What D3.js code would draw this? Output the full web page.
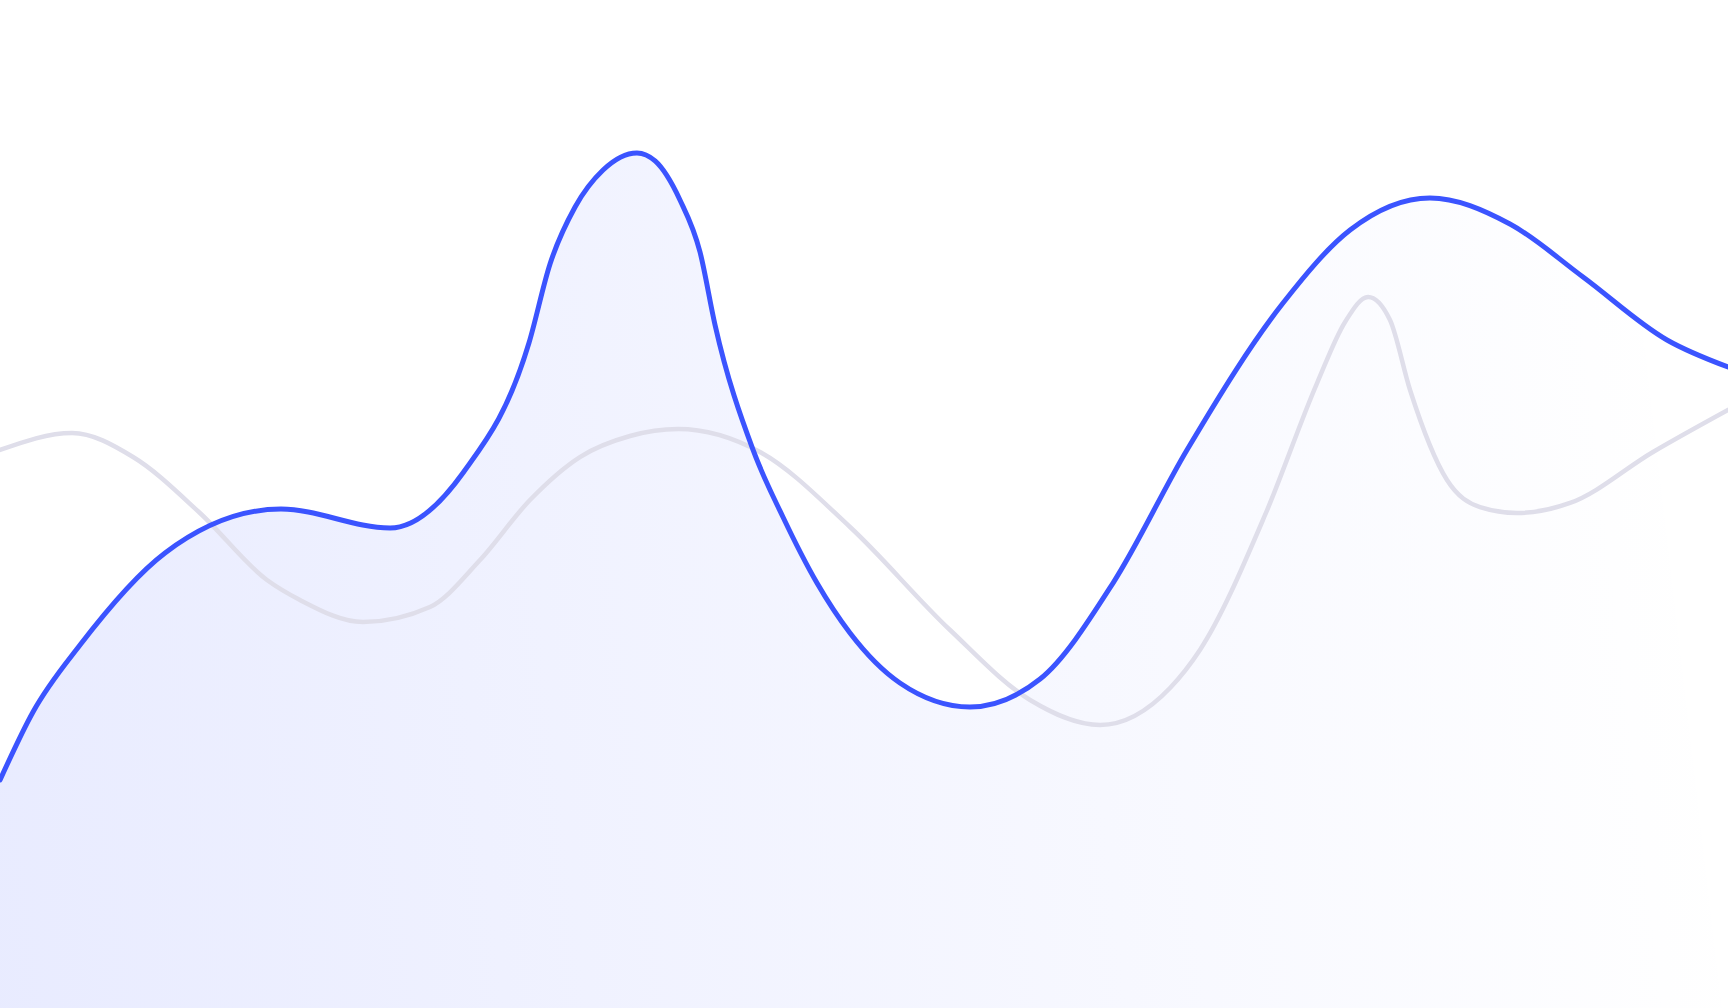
<!DOCTYPE html>
<html>
<head>
<meta charset="utf-8">
<script src="https://cdn.jsdelivr.net/npm/d3@7"></script>
<style>
  html, body { margin: 0; padding: 0; background: #ffffff; overflow: hidden; }
  svg { display: block; }
</style>
</head>
<body>
<div id="chart"></div>
<script>
// ---- data (x position 0–100, value 0–100) ----
const primaryX = [0, 1.91, 4.63, 9.55, 16.26, 22.57, 26.79, 30.61, 31.83, 33.28, 34.90, 36.86, 37.91, 39.35, 40.51, 41.38, 43.58, 45.31, 47.28, 49.19, 52.08, 56.13, 60.19, 64.41, 68.69, 74.25, 78.13, 82.75, 87.38, 91.61, 96.47, 100];
const primaryValues = [22.62, 29.37, 36.01, 45.14, 49.50, 47.62, 53.08, 65.97, 73.81, 79.46, 83.13, 84.82, 84.03, 80.16, 75.00, 67.76, 55.36, 48.71, 42.16, 37.20, 32.24, 29.86, 32.64, 42.16, 55.36, 69.94, 77.18, 80.36, 77.78, 72.52, 66.27, 63.59];

const secondaryX = [0, 4.17, 7.70, 11.57, 15.45, 17.36, 21.01, 24.88, 27.78, 30.67, 33.56, 36.46, 39.24, 43.98, 49.19, 54.98, 59.61, 63.66, 67.71, 69.44, 73.21, 76.22, 77.84, 79.17, 80.44, 81.60, 83.74, 85.65, 87.79, 90.86, 95.66, 100];
const secondaryValues = [55.36, 57.04, 54.66, 49.11, 42.46, 40.48, 38.29, 39.78, 44.44, 50.40, 54.66, 56.75, 57.44, 55.16, 47.72, 37.50, 30.56, 28.08, 31.75, 35.52, 48.91, 62.00, 68.06, 70.54, 68.25, 61.31, 52.38, 49.70, 49.11, 50.10, 55.16, 59.33];

// ---- drawing ----
const W = 1728, H = 1008;
const x = d3.scaleLinear().domain([0, 100]).range([0, W]);
const y = d3.scaleLinear().domain([0, 100]).range([H, 0]);

const primary = primaryX.map((d, i) => ({ x: d, v: primaryValues[i] }));
const secondary = secondaryX.map((d, i) => ({ x: d, v: secondaryValues[i] }));

const svg = d3.select("#chart").append("svg")
  .attr("width", W).attr("height", H).attr("viewBox", `0 0 ${W} ${H}`);

const defs = svg.append("defs");
const grad = defs.append("linearGradient")
  .attr("id", "areaGrad")
  .attr("gradientUnits", "userSpaceOnUse")
  .attr("x1", 0).attr("y1", H).attr("x2", W).attr("y2", H * 0.8);
grad.append("stop").attr("offset", "0%").attr("stop-color", "#3b54ff").attr("stop-opacity", 0.115);
grad.append("stop").attr("offset", "100%").attr("stop-color", "#3b54ff").attr("stop-opacity", 0);

const curve = d3.curveMonotoneX;

const area = d3.area()
  .x(d => x(d.x)).y0(y(0)).y1(d => y(d.v)).curve(curve);
const line = d3.line()
  .x(d => x(d.x)).y(d => y(d.v)).curve(curve);

svg.append("path").datum(primary)
  .attr("d", area).attr("fill", "url(#areaGrad)");

svg.append("path").datum(secondary)
  .attr("d", line).attr("fill", "none")
  .attr("stroke", "#dfdeea").attr("stroke-width", 4.5)
  .attr("stroke-linejoin", "round").attr("stroke-linecap", "round");

svg.append("path").datum(primary)
  .attr("d", line).attr("fill", "none")
  .attr("stroke", "#3b54ff").attr("stroke-width", 5)
  .attr("stroke-linejoin", "round").attr("stroke-linecap", "round");
</script>
</body>
</html>
